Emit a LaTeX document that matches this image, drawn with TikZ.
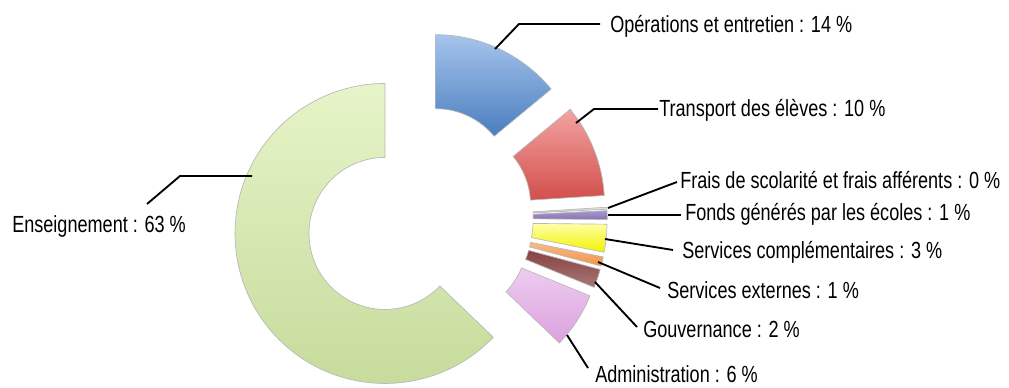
\documentclass[tikz,border=0pt]{standalone}
\usepackage{fontspec}
\setmainfont{Liberation Sans}[FakeStretch=0.775]
\newcommand\donutslice[4]{%
  \pgfmathsetmacro\bis{(#1+#2)/2}%
  \begin{scope}[shift={(419.6,218.7)}, y=0.75pt, shift={(\bis:37.6)}]
    \shade[slice, top color=#3, bottom color=#4]
      (#1:76) -- (#1:150) arc[start angle=#1, end angle=#2, radius=150]
      -- (#2:76) arc[start angle=#2, end angle=#1, radius=76] -- cycle;
  \end{scope}}
\definecolor{blueT}{HTML}{A6C4EC}\definecolor{blueB}{HTML}{4A7EBF}
\definecolor{redT}{HTML}{F2A3A1}\definecolor{redB}{HTML}{D24F4B}
\definecolor{grayT}{HTML}{E2E6DE}\definecolor{grayB}{HTML}{C4CBBE}
\definecolor{purT}{HTML}{A898D0}\definecolor{purB}{HTML}{8A72B0}
\definecolor{yelT}{HTML}{FFFFA8}\definecolor{yelB}{HTML}{F2F200}
\definecolor{oraT}{HTML}{FAB984}\definecolor{oraB}{HTML}{F2944A}
\definecolor{broT}{HTML}{874242}\definecolor{broB}{HTML}{A87776}
\definecolor{lilT}{HTML}{EDCCF0}\definecolor{lilB}{HTML}{DCA2DE}
\definecolor{grnT}{HTML}{E6F4C8}\definecolor{grnB}{HTML}{C5DA9A}
\begin{document}
\begin{tikzpicture}[x=0.75pt,y=-0.75pt,
  lbl/.style={anchor=base west, inner sep=0pt, font=\fontsize{17.5}{19}\selectfont},
  leader/.style={line width=1.4pt, black},
  slice/.style={draw=black!28, line width=0.5pt}]
\useasboundingbox (0,0) rectangle (1009,388);
% slices
\donutslice{90}{39.6}{blueT}{blueB}
\donutslice{39.6}{3.6}{redT}{redB}
\donutslice{3.6}{2.8}{grayT}{grayB}
\donutslice{2.8}{-0.6}{purT}{purB}
\donutslice{-0.6}{-11.4}{yelT}{yelB}
\donutslice{-11.4}{-15}{oraT}{oraB}
\donutslice{-15}{-22.2}{broT}{broB}
\donutslice{-22.2}{-43.8}{lilT}{lilB}
\donutslice{-43.8}{-270}{grnT}{grnB}
% labels
\node[lbl] (op) at (610,33) {Opérations et entretien : 14 \%};
\node[lbl] (tr) at (659,117) {Transport des élèves : 10 \%};
\node[lbl] (fr) at (680,189) {Frais de scolarité et frais afférents : 0 \%};
\node[lbl] (fo) at (685,220) {Fonds générés par les écoles : 1 \%};
\node[lbl] (sc) at (682,258) {Services complémentaires : 3 \%};
\node[lbl] (se) at (667,298) {Services externes : 1 \%};
\node[lbl] (gv) at (643,337) {Gouvernance : 2 \%};
\node[lbl] (ad) at (595,382) {Administration : 6 \%};
\node[lbl] (en) at (12,233) {Enseignement : 63 \%};
% leader coordinates
\coordinate (sOp) at (495,49);  \coordinate (kOp) at (519,24);  \coordinate (eOp) at (600,24);
\coordinate (sTr) at (576,123); \coordinate (kTr) at (594,109); \coordinate (eTr) at (658,109);
\coordinate (sFr) at (608,208); \coordinate (eFr) at (677,182);
\coordinate (sFo) at (608,215); \coordinate (eFo) at (681,215);
\coordinate (sSc) at (605,239); \coordinate (eSc) at (673,250);
\coordinate (sSe) at (598,262); \coordinate (eSe) at (660,288);
\coordinate (sGv) at (595,282); \coordinate (eGv) at (637,327);
\coordinate (sAd) at (567,335); \coordinate (eAd) at (588,368);
\coordinate (sEn) at (252,176); \coordinate (kEn) at (180,176); \coordinate (eEn) at (147,204);
\draw[leader] (sOp) -- (kOp) -- (eOp);
\draw[leader] (sTr) -- (kTr) -- (eTr);
\draw[leader] (sFr) -- (eFr);
\draw[leader] (sFo) -- (eFo);
\draw[leader] (sSc) -- (eSc);
\draw[leader] (sSe) -- (eSe);
\draw[leader] (sGv) -- (eGv);
\draw[leader] (sAd) -- (eAd);
\draw[leader] (sEn) -- (kEn) -- (eEn);
\end{tikzpicture}
\end{document}
